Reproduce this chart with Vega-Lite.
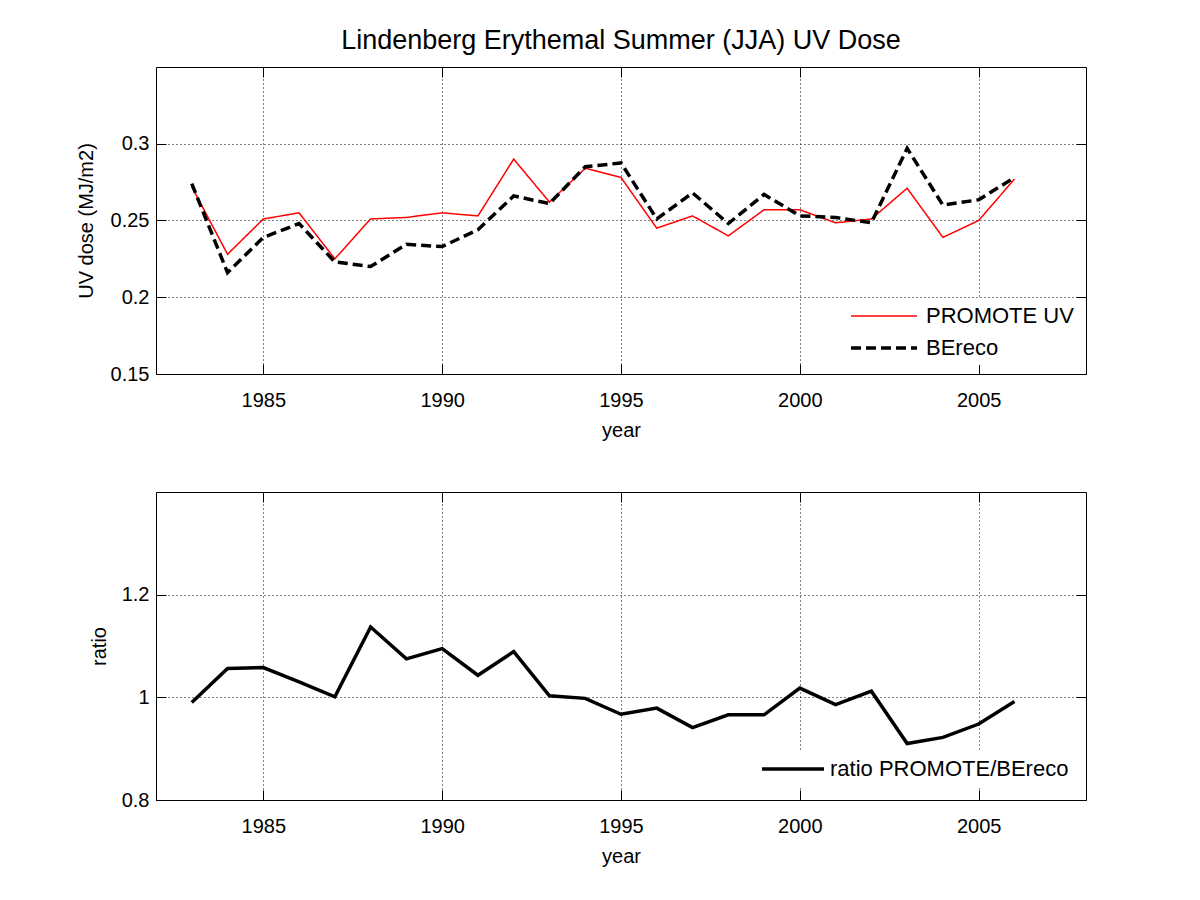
{
  "$schema": "https://vega.github.io/schema/vega-lite/v6.json",
  "background": "white",
  "padding": {"left": 75, "top": 26, "right": 0, "bottom": 0},
  "autosize": {"type": "pad"},
  "spacing": 118,
  "bounds": "flush",
  "resolve": {"scale": {"color": "independent", "strokeDash": "independent"}, "legend": {"color": "independent"}},
  "datasets": {
    "uv": [
      {"year": 1983, "series": "PROMOTE UV", "value": 0.272},
      {"year": 1984, "series": "PROMOTE UV", "value": 0.228},
      {"year": 1985, "series": "PROMOTE UV", "value": 0.251},
      {"year": 1986, "series": "PROMOTE UV", "value": 0.255},
      {"year": 1987, "series": "PROMOTE UV", "value": 0.225},
      {"year": 1988, "series": "PROMOTE UV", "value": 0.251},
      {"year": 1989, "series": "PROMOTE UV", "value": 0.252},
      {"year": 1990, "series": "PROMOTE UV", "value": 0.255},
      {"year": 1991, "series": "PROMOTE UV", "value": 0.253},
      {"year": 1992, "series": "PROMOTE UV", "value": 0.290},
      {"year": 1993, "series": "PROMOTE UV", "value": 0.262},
      {"year": 1994, "series": "PROMOTE UV", "value": 0.284},
      {"year": 1995, "series": "PROMOTE UV", "value": 0.278},
      {"year": 1996, "series": "PROMOTE UV", "value": 0.245},
      {"year": 1997, "series": "PROMOTE UV", "value": 0.253},
      {"year": 1998, "series": "PROMOTE UV", "value": 0.240},
      {"year": 1999, "series": "PROMOTE UV", "value": 0.257},
      {"year": 2000, "series": "PROMOTE UV", "value": 0.257},
      {"year": 2001, "series": "PROMOTE UV", "value": 0.2485},
      {"year": 2002, "series": "PROMOTE UV", "value": 0.251},
      {"year": 2003, "series": "PROMOTE UV", "value": 0.271},
      {"year": 2004, "series": "PROMOTE UV", "value": 0.239},
      {"year": 2005, "series": "PROMOTE UV", "value": 0.250},
      {"year": 2006, "series": "PROMOTE UV", "value": 0.277},
      {"year": 1983, "series": "BEreco", "value": 0.274},
      {"year": 1984, "series": "BEreco", "value": 0.216},
      {"year": 1985, "series": "BEreco", "value": 0.239},
      {"year": 1986, "series": "BEreco", "value": 0.248},
      {"year": 1987, "series": "BEreco", "value": 0.223},
      {"year": 1988, "series": "BEreco", "value": 0.220},
      {"year": 1989, "series": "BEreco", "value": 0.2345},
      {"year": 1990, "series": "BEreco", "value": 0.233},
      {"year": 1991, "series": "BEreco", "value": 0.244},
      {"year": 1992, "series": "BEreco", "value": 0.266},
      {"year": 1993, "series": "BEreco", "value": 0.261},
      {"year": 1994, "series": "BEreco", "value": 0.285},
      {"year": 1995, "series": "BEreco", "value": 0.2875},
      {"year": 1996, "series": "BEreco", "value": 0.251},
      {"year": 1997, "series": "BEreco", "value": 0.268},
      {"year": 1998, "series": "BEreco", "value": 0.248},
      {"year": 1999, "series": "BEreco", "value": 0.267},
      {"year": 2000, "series": "BEreco", "value": 0.253},
      {"year": 2001, "series": "BEreco", "value": 0.252},
      {"year": 2002, "series": "BEreco", "value": 0.2485},
      {"year": 2003, "series": "BEreco", "value": 0.297},
      {"year": 2004, "series": "BEreco", "value": 0.260},
      {"year": 2005, "series": "BEreco", "value": 0.2635},
      {"year": 2006, "series": "BEreco", "value": 0.278}
    ],
    "ratio": [
      {"year": 1983, "ratio": 0.990},
      {"year": 1984, "ratio": 1.056},
      {"year": 1985, "ratio": 1.058},
      {"year": 1986, "ratio": 1.030},
      {"year": 1987, "ratio": 1.001},
      {"year": 1988, "ratio": 1.137},
      {"year": 1989, "ratio": 1.075},
      {"year": 1990, "ratio": 1.095},
      {"year": 1991, "ratio": 1.043},
      {"year": 1992, "ratio": 1.089},
      {"year": 1993, "ratio": 1.003},
      {"year": 1994, "ratio": 0.998},
      {"year": 1995, "ratio": 0.967},
      {"year": 1996, "ratio": 0.979},
      {"year": 1997, "ratio": 0.941},
      {"year": 1998, "ratio": 0.966},
      {"year": 1999, "ratio": 0.966},
      {"year": 2000, "ratio": 1.018},
      {"year": 2001, "ratio": 0.986},
      {"year": 2002, "ratio": 1.012},
      {"year": 2003, "ratio": 0.910},
      {"year": 2004, "ratio": 0.922},
      {"year": 2005, "ratio": 0.948},
      {"year": 2006, "ratio": 0.992}
    ]
  },
  "vconcat": [
    {
      "width": 930,
      "height": 307,
      "title": {
        "text": "Lindenberg Erythemal Summer (JJA) UV Dose",
        "anchor": "middle",
        "frame": "group",
        "offset": -9,
        "baseline": "alphabetic",
        "fontSize": 27,
        "font": "Liberation Sans",
        "fontWeight": "normal",
        "color": "black"
      },
      "data": {"name": "uv"},
      "layer": [
        {
          "mark": {"type": "line", "strokeJoin": "miter"},
          "encoding": {
            "x": {
              "field": "year", "type": "quantitative",
              "scale": {"domain": [1982, 2008], "nice": false, "zero": false},
              "axis": {"values": [1985, 1990, 1995, 2000, 2005], "format": "d", "title": "year", "grid": true}
            },
            "y": {
              "field": "value", "type": "quantitative",
              "scale": {"domain": [0.15, 0.35], "nice": false, "zero": false},
              "axis": {"values": [0.15, 0.2, 0.25, 0.3], "format": ".2~f", "title": "UV dose (MJ/m2)", "titlePadding": 13.7, "grid": true}
            },
            "color": {
              "field": "series", "type": "nominal",
              "scale": {"domain": ["PROMOTE UV", "BEreco"], "range": ["#ff0000", "#000000"]},
              "legend": {
                "title": null,
                "orient": "none",
                "legendX": 689,
                "legendY": 232,
                "direction": "vertical",
                "symbolType": "stroke",
                "symbolSize": 4356,
                "symbolOffset": 22,
                "labelFontSize": 22,
                "labelFont": "Liberation Sans",
                "labelColor": "black",
                "labelOffset": 31,
                "labelLimit": 500,
                "padding": 6,
                "rowPadding": 10,
                "fillColor": "white",
                "strokeColor": null,
                "encode": {"symbols": {"update": {
                  "strokeWidth": {"signal": "datum.value === 'BEreco' ? 3.5 : 1.5"},
                  "strokeDash": {"signal": "datum.value === 'BEreco' ? [10, 5] : [1, 0]"}
                }}}
              }
            },
            "strokeDash": {
              "field": "series", "type": "nominal",
              "scale": {"domain": ["PROMOTE UV", "BEreco"], "range": [[1, 0], [10, 5]]},
              "legend": null
            },
            "strokeWidth": {"condition": {"test": "datum.series === 'BEreco'", "value": 3.5}, "value": 1.5}
          }
        },
        {
          "mark": {"type": "line", "opacity": 0},
          "encoding": {
            "x": {
              "field": "year", "type": "quantitative",
              "axis": {"orient": "top", "values": [1985, 1990, 1995, 2000, 2005], "labels": false, "title": null, "grid": false}
            },
            "y": {
              "field": "value", "type": "quantitative",
              "axis": {"orient": "right", "values": [0.15, 0.2, 0.25, 0.3], "labels": false, "title": null, "grid": false}
            }
          }
        }
      ],
      "resolve": {"axis": {"x": "independent", "y": "independent"}}
    },
    {
      "width": 930,
      "height": 308,
      "data": {"name": "ratio"},
      "layer": [
        {
          "mark": {"type": "line", "strokeWidth": 3.5, "strokeJoin": "miter"},
          "encoding": {
            "x": {
              "field": "year", "type": "quantitative",
              "scale": {"domain": [1982, 2008], "nice": false, "zero": false},
              "axis": {"values": [1985, 1990, 1995, 2000, 2005], "format": "d", "title": "year", "grid": true}
            },
            "y": {
              "field": "ratio", "type": "quantitative",
              "scale": {"domain": [0.8, 1.4], "nice": false, "zero": false},
              "axis": {"values": [0.8, 1, 1.2], "format": ".1~f", "title": "ratio", "titlePadding": 12, "grid": true}
            },
            "color": {
              "datum": "ratio PROMOTE/BEreco", "type": "nominal",
              "scale": {"domain": ["ratio PROMOTE/BEreco"], "range": ["#000000"]},
              "legend": {
                "title": null,
                "orient": "none",
                "legendX": 600,
                "legendY": 260,
                "symbolType": "stroke",
                "symbolSize": 3844,
                "symbolOffset": 20,
                "labelFontSize": 22,
                "labelFont": "Liberation Sans",
                "labelColor": "black",
                "labelOffset": 26,
                "labelLimit": 500,
                "padding": 6,
                "fillColor": "white",
                "strokeColor": null,
                "encode": {"symbols": {"update": {
                  "strokeWidth": {"signal": "datum.value === 'ratio PROMOTE/BEreco' ? 3.5 : 3.5"}
                }}}
              }
            }
          }
        },
        {
          "mark": {"type": "line", "opacity": 0},
          "encoding": {
            "x": {
              "field": "year", "type": "quantitative",
              "axis": {"orient": "top", "values": [1985, 1990, 1995, 2000, 2005], "labels": false, "title": null, "grid": false}
            },
            "y": {
              "field": "ratio", "type": "quantitative",
              "axis": {"orient": "right", "values": [0.8, 1, 1.2], "labels": false, "title": null, "grid": false}
            }
          }
        }
      ],
      "resolve": {"axis": {"x": "independent", "y": "independent"}}
    }
  ],
  "config": {
    "font": "Liberation Sans",
    "view": {"stroke": "black", "strokeWidth": 1},
    "axis": {
      "labelFont": "Liberation Sans",
      "labelFontSize": 20,
      "labelColor": "black",
      "titleFont": "Liberation Sans",
      "titleFontSize": 20,
      "titleFontWeight": "normal",
      "titleColor": "black",
      "domain": false,
      "ticks": true,
      "tickColor": "black",
      "tickWidth": 1,
      "tickSize": -10,
      "gridColor": "black",
      "gridDash": [1, 3],
      "gridOpacity": 1,
      "gridWidth": 1,
      "labelFlush": false,
      "labelOverlap": false
    },
    "axisX": {"labelPadding": 26.5, "titlePadding": 10},
    "axisY": {"labelPadding": 17}
  }
}
